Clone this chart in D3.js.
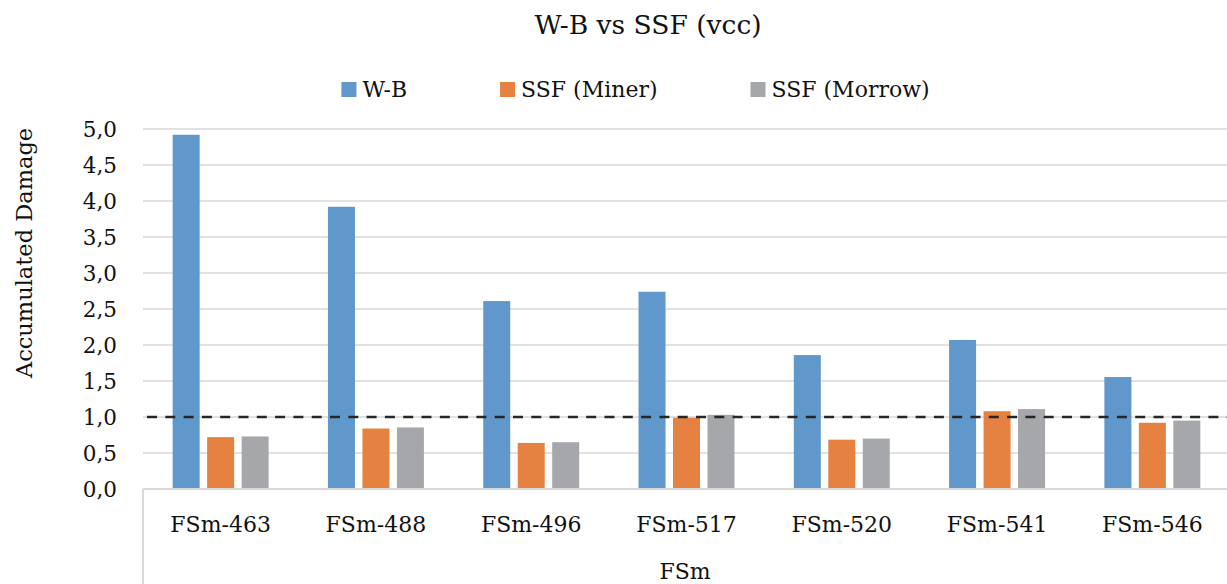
<!DOCTYPE html>
<html>
<head>
<meta charset="utf-8">
<script src="https://cdn.jsdelivr.net/npm/d3@7"></script>
<style>
  body { margin: 0; background: #fff; }
</style>
</head>
<body>
<div id="chart"></div>
<script>
// data
var categories = ["FSm-463", "FSm-488", "FSm-496", "FSm-517", "FSm-520", "FSm-541", "FSm-546"];
var seriesNames = ["W-B", "SSF (Miner)", "SSF (Morrow)"];
var wbValues = [4.92, 3.92, 2.61, 2.74, 1.86, 2.07, 1.555];
var minerValues = [0.72, 0.84, 0.64, 0.99, 0.685, 1.08, 0.92];
var morrowValues = [0.73, 0.855, 0.65, 1.03, 0.70, 1.11, 0.95];
var yTicks = [0, 0.5, 1, 1.5, 2, 2.5, 3, 3.5, 4, 4.5, 5];
var threshold = 1.0;

var colors = ["#6198cc", "#e58141", "#a6a7aa"];
var serif = "DejaVu Serif";
var textColor = "#111";

var svgwidth = 1227, svgheight = 584;
var margin = {top: 129, right: -3, bottom: 95, left: 143};
var width = svgwidth - margin.left - margin.right;
var height = svgheight - margin.top - margin.bottom;

var svg = d3.select("#chart").append("svg")
    .attr("width", svgwidth)
    .attr("height", svgheight);

var g = svg.append("g")
    .attr("transform", "translate(" + margin.left + "," + margin.top + ")");

var x0 = d3.scaleBand().domain(categories).range([0, width]);
var x1 = d3.scaleBand().domain(seriesNames).range([0, x0.bandwidth()])
    .paddingInner(0.217).paddingOuter(0.86);
var y = d3.scaleLinear().domain([0, 5]).range([height, 0]);

// gridlines
g.append("g").selectAll("line")
    .data(yTicks.filter(function(d) { return d > 0; }))
    .enter().append("line")
    .attr("x1", 0).attr("x2", width)
    .attr("y1", function(d) { return y(d); })
    .attr("y2", function(d) { return y(d); })
    .attr("stroke", "#d9d9d9")
    .attr("stroke-width", 1.5);

// y tick labels (comma decimals)
var fmt = function(d) { return d3.format(".1f")(d).replace(".", ","); };
g.append("g").selectAll("text")
    .data(yTicks)
    .enter().append("text")
    .attr("x", -26)
    .attr("y", function(d) { return y(d); })
    .attr("dy", "0.36em")
    .attr("text-anchor", "end")
    .style("font-family", serif)
    .style("font-size", "21.5px")
    .attr("fill", textColor)
    .text(fmt);

// bars
var table = categories.map(function(c, i) {
    return {cat: c, vals: [wbValues[i], minerValues[i], morrowValues[i]]};
});
var groups = g.append("g").selectAll("g")
    .data(table)
    .enter().append("g")
    .attr("transform", function(d) { return "translate(" + x0(d.cat) + ",0)"; });
groups.selectAll("rect")
    .data(function(d) { return d.vals.map(function(v, k) { return {name: seriesNames[k], value: v, k: k}; }); })
    .enter().append("rect")
    .attr("x", function(d) { return x1(d.name); })
    .attr("y", function(d) { return y(d.value); })
    .attr("width", x1.bandwidth())
    .attr("height", function(d) { return height - y(d.value); })
    .attr("fill", function(d) { return colors[d.k]; });

// x axis line and left edge of the category box
g.append("line")
    .attr("x1", 0).attr("x2", width)
    .attr("y1", height).attr("y2", height)
    .attr("stroke", "#d9d9d9").attr("stroke-width", 2);
g.append("line")
    .attr("x1", 0).attr("x2", 0)
    .attr("y1", height).attr("y2", svgheight - margin.top)
    .attr("stroke", "#d9d9d9").attr("stroke-width", 2);

// threshold at 1,0
g.append("line")
    .attr("x1", 4).attr("x2", width)
    .attr("y1", y(threshold)).attr("y2", y(threshold))
    .attr("stroke", "#262626")
    .attr("stroke-width", 2.5)
    .attr("stroke-dasharray", "10,8.3");

// category labels
g.append("g").selectAll("text")
    .data(categories)
    .enter().append("text")
    .attr("x", function(d) { return x0(d) + x0.bandwidth() / 2; })
    .attr("y", 532 - margin.top)
    .attr("text-anchor", "middle")
    .style("font-family", serif)
    .style("font-size", "22px")
    .attr("fill", textColor)
    .text(function(d) { return d; });

// axis titles
svg.append("text")
    .attr("x", 685).attr("y", 579)
    .attr("text-anchor", "middle")
    .style("font-family", serif)
    .style("font-size", "22px")
    .attr("fill", textColor)
    .text("FSm");

svg.append("text")
    .attr("transform", "translate(32,253) rotate(-90)")
    .attr("text-anchor", "middle")
    .style("font-family", serif)
    .style("font-size", "22.5px")
    .attr("fill", textColor)
    .text("Accumulated Damage");

// title
svg.append("text")
    .attr("x", 648).attr("y", 34)
    .attr("text-anchor", "middle")
    .style("font-family", serif)
    .style("font-size", "26.5px")
    .attr("fill", textColor)
    .text("W-B vs SSF (vcc)");

// legend
var legend = svg.append("g");
var lx = 0;
seriesNames.forEach(function(name, k) {
    var item = legend.append("g").attr("transform", "translate(" + lx + ",0)");
    item.append("rect")
        .attr("x", 0).attr("y", 82)
        .attr("width", 15).attr("height", 15)
        .attr("fill", colors[k]);
    var t = item.append("text")
        .attr("x", 21).attr("y", 97)
        .style("font-family", serif)
        .style("font-size", "22px")
        .attr("fill", textColor)
        .text(name);
    lx += 21 + t.node().getComputedTextLength() + 93;
});
var lw = legend.node().getBBox().width;
legend.attr("transform", "translate(" + (635.5 - lw / 2) + ",0)");
</script>
</body>
</html>
